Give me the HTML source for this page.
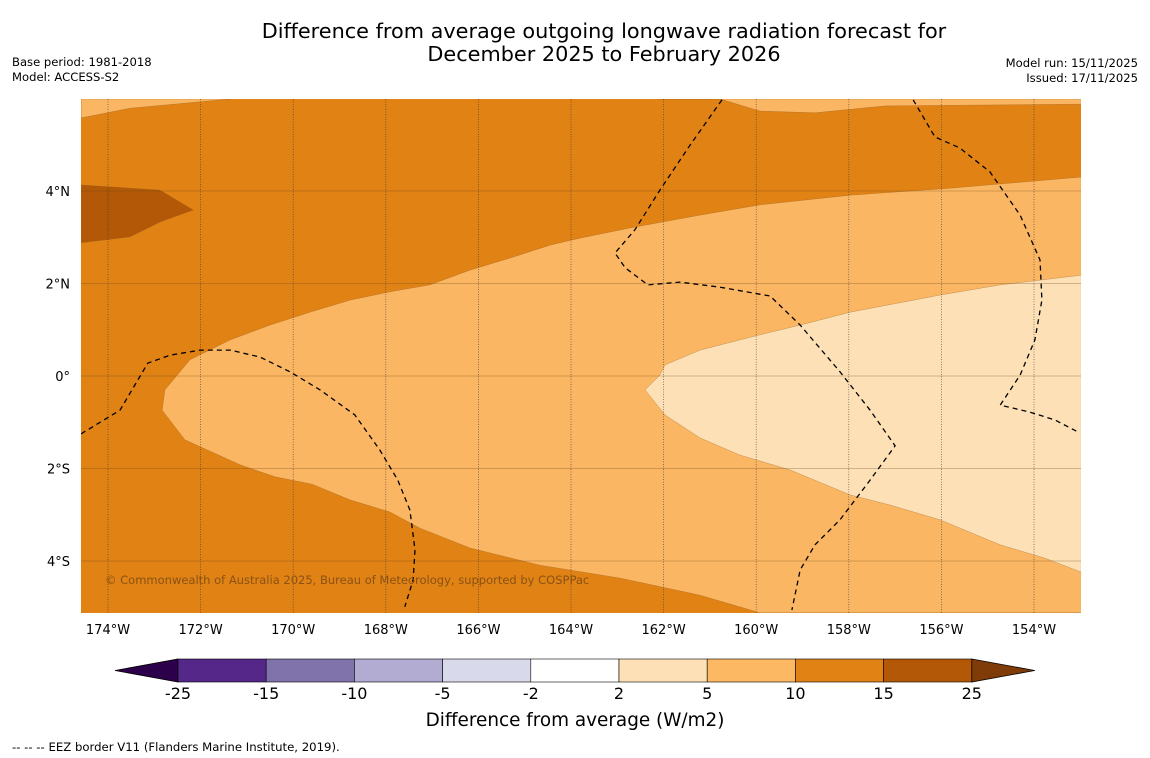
<!DOCTYPE html>
<html><head><meta charset="utf-8">
<style>
body{margin:0;background:#fff;width:1150px;height:758px;overflow:hidden;font-family:"DejaVu Sans","Liberation Sans",sans-serif;}
svg{display:block}
</style></head>
<body>
<svg id="chart" width="1150" height="758">
<text x="604" y="38" text-anchor="middle" font-size="20.8">Difference from average outgoing longwave radiation forecast for</text>
<text x="604" y="61" text-anchor="middle" font-size="20.8">December 2025 to February 2026</text>
<text x="12" y="66" font-size="11.6">Base period: 1981-2018</text>
<text x="12" y="81" font-size="11.6">Model: ACCESS-S2</text>
<text x="1138" y="67" font-size="11.6" text-anchor="end">Model run: 15/11/2025</text>
<text x="1138" y="82" font-size="11.6" text-anchor="end">Issued: 17/11/2025</text>
<g id="map"></g>
<g id="cbar"></g>
<text x="575" y="726" text-anchor="middle" font-size="18.4">Difference from average (W/m2)</text>
<text x="12" y="751" font-size="11.7">--  --  -- EEZ border V11 (Flanders Marine Institute, 2019).</text>
</svg>
<script>
const lonTicks=[-174,-172,-170,-168,-166,-164,-162,-160,-158,-156,-154];
const latTicks=[4,2,0,-2,-4];
const zone5to10Main=[[-172.83,-0.74],[-172.77,-0.30],[-172.23,0.35],[-171.36,0.78],[-170.50,1.10],[-169.64,1.38],[-168.77,1.64],[-167.91,1.82],[-167.05,1.97],[-166.18,2.29],[-165.32,2.55],[-164.45,2.83],[-163.81,2.98],[-162.73,3.20],[-161.21,3.48],[-159.92,3.70],[-157.97,3.91],[-155.81,4.06],[-152.98,4.30],[-152.98,-5.12],[-159.92,-5.12],[-161.21,-4.74],[-162.94,-4.37],[-164.67,-4.09],[-166.18,-3.72],[-167.26,-3.29],[-167.91,-2.94],[-168.77,-2.68],[-169.59,-2.34],[-170.39,-2.18],[-171.15,-1.92],[-172.34,-1.38]];
const zone5to10TopRight=[[-162.08,5.99],[-160.78,5.99],[-159.92,5.73],[-158.73,5.69],[-157.22,5.84],[-152.98,5.88],[-152.98,5.99]];
const zone5to10TopLeft=[[-174.58,5.99],[-171.36,5.99],[-173.52,5.79],[-174.58,5.58]];
const zone2to5=[[-152.98,2.18],[-154.73,1.97],[-156.03,1.75],[-157.97,1.38],[-159.05,1.10],[-159.92,0.89],[-161.21,0.56],[-161.97,0.24],[-162.08,0.02],[-162.40,-0.30],[-161.97,-0.84],[-161.21,-1.34],[-160.35,-1.71],[-159.27,-2.03],[-157.97,-2.57],[-157.11,-2.79],[-156.03,-3.11],[-154.73,-3.65],[-153.76,-3.94],[-152.98,-4.24]];
const zone15to25=[[-174.58,4.13],[-172.88,4.02],[-172.16,3.59],[-172.88,3.33],[-173.52,3.01],[-174.58,2.88]];
const eezWest=[[-174.58,-1.25],[-173.74,-0.74],[-173.14,0.28],[-172.66,0.45],[-172.01,0.56],[-171.36,0.56],[-170.72,0.41],[-170.07,0.09],[-169.42,-0.30],[-168.67,-0.84],[-168.13,-1.60],[-167.74,-2.25],[-167.48,-2.90],[-167.37,-3.76],[-167.41,-4.41],[-167.59,-4.99]];
const eezCentral=[[-160.74,5.97],[-161.43,4.99],[-162.08,4.02],[-162.62,3.16],[-163.05,2.66],[-162.83,2.34],[-162.34,1.97],[-161.65,2.03],[-160.78,1.92],[-159.70,1.73],[-159.05,1.10],[-158.19,0.09],[-157.54,-0.74],[-157.00,-1.51],[-157.54,-2.25],[-158.19,-3.11],[-158.73,-3.65],[-159.05,-4.19],[-159.23,-5.06]];
const eezEast=[[-156.61,5.97],[-156.14,5.17],[-155.60,4.93],[-154.95,4.41],[-154.30,3.48],[-153.87,2.51],[-153.83,1.64],[-153.98,0.78],[-154.30,0.02],[-154.73,-0.63],[-154.09,-0.78],[-153.55,-0.95],[-153.05,-1.21]];
const cbarLabels=["-25","-15","-10","-5","-2","2","5","10","15","25"];
const cbarColors=["#542788","#8073ac","#b2abd2","#d8daeb","#ffffff","#fee0b6","#fdb863","#e08214","#b35806"];

const NS="http://www.w3.org/2000/svg";
const X0=81,X1=1081,Y0=99,Y1=613;
const xs=lon=>108+(lon+174)*46.3;
const ys=lat=>376-lat*46.25;
function mk(tag,attrs,parent){const e=document.createElementNS(NS,tag);for(const k in attrs)e.setAttribute(k,attrs[k]);parent.appendChild(e);return e;}
const pts=a=>a.map(p=>xs(p[0]).toFixed(1)+","+ys(p[1]).toFixed(1)).join(" ");
const map=document.getElementById("map");
const defs=mk("defs",{},map);
const cp=mk("clipPath",{id:"clip"},defs);
mk("rect",{x:X0,y:Y0,width:X1-X0,height:Y1-Y0},cp);
const g=mk("g",{"clip-path":"url(#clip)"},map);
let bg=mk("rect",{x:X0,y:Y0,width:X1-X0,height:Y1-Y0,fill:"#e08214"},g);


[[zone5to10Main,"#fbb663","zone-5-to-10"],[zone5to10TopRight,"#fbb663","zone-5-to-10-top-right"],[zone5to10TopLeft,"#fbb663","zone-5-to-10-top-left"],[zone2to5,"#fde0b6","zone-2-to-5"],[zone15to25,"#b35806","zone-15-to-25"]].forEach(z=>{
  const p=mk("polygon",{points:pts(z[0]),fill:z[1],stroke:"#8a5a20","stroke-width":0.5,"stroke-opacity":0.5},g);
  
  
});
lonTicks.forEach(l=>{
  const ln=mk("line",{x1:xs(l),x2:xs(l),y1:Y0,y2:Y1,stroke:"#333","stroke-width":0.7,"stroke-dasharray":"1,1.5","stroke-opacity":0.8},g);
  
  
  const t=mk("text",{x:xs(l),y:634,"text-anchor":"middle","font-size":13},map);
  t.textContent=Math.abs(l)+"°W";
  
  
});
latTicks.forEach(l=>{
  const ln=mk("line",{x1:X0,x2:X1,y1:ys(l),y2:ys(l),stroke:"#6b4a20","stroke-width":0.6,"stroke-opacity":0.6},g);
  
  
  const t=mk("text",{x:70,y:ys(l)+5,"text-anchor":"end","font-size":13},map);
  t.textContent=l===0?"0°":Math.abs(l)+"°"+(l>0?"N":"S");
  
  
});
[[eezWest,"eez-border-west"],[eezCentral,"eez-border-central"],[eezEast,"eez-border-east"]].forEach(e=>{
  const p=mk("polyline",{points:pts(e[0]),fill:"none",stroke:"#000","stroke-width":1.3,"stroke-dasharray":"5,4"},g);
  
  
});
const cr=mk("text",{x:105,y:584,"font-size":11.5,fill:"#7a4a14","fill-opacity":0.85},g);
cr.textContent="© Commonwealth of Australia 2025, Bureau of Meteorology, supported by COSPPac";



const cb=document.getElementById("cbar");
const CX0=178,CW=88.2,CY=659,CH=23;
const lt=mk("polygon",{points:`115,${CY+CH/2} ${CX0},${CY} ${CX0},${CY+CH}`,fill:"#2d004b",stroke:"#000","stroke-width":0.8},cb);


cbarColors.forEach((c,i)=>{
  const r=mk("rect",{x:CX0+i*CW,y:CY,width:CW,height:CH,fill:c,stroke:"#000","stroke-width":0.6},cb);
  
  
});
const xe=CX0+cbarColors.length*CW;
const rt=mk("polygon",{points:`${xe},${CY} ${xe+63},${CY+CH/2} ${xe},${CY+CH}`,fill:"#7f3b08",stroke:"#000","stroke-width":0.8},cb);


cbarLabels.forEach((s,i)=>{
  const t=mk("text",{x:CX0+i*CW,y:699,"text-anchor":"middle","font-size":16},cb);
  t.textContent=s;
  
  
});
</script>
</body></html>
